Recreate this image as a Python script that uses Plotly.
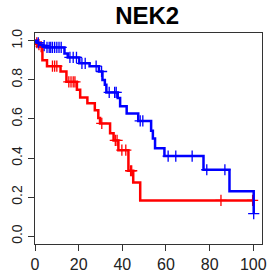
import numpy as np
import plotly.graph_objects as go

# Kaplan-Meier style step data (time, survival)
red_time = [0, 0.6, 1.5, 2.5, 3.4, 5.5, 11.7, 14.4, 19.2, 20.7, 24.0, 27.4, 29.0, 29.8,
            34.4, 36.0, 38.2, 42.8, 45.0, 48.2, 100]
red_surv = [1.0, 0.99, 0.98, 0.97, 0.90, 0.87, 0.843, 0.79, 0.75, 0.71, 0.68, 0.645, 0.605, 0.577,
            0.527, 0.49, 0.44, 0.335, 0.275, 0.183, 0.183]
red_cens = [0.8, 1.8, 2.8, 8.0, 9.0, 10.0, 15.5, 16.5, 17.5, 18.3, 30.6, 36.8, 37.6,
            39.8, 41.6, 43.8, 44.3, 85.2, 99.7]

blue_time = [0, 1.0, 2.0, 3.5, 5.0, 13.5, 15.0, 20.3, 25.0, 29.3, 30.9, 32.0, 32.7, 37.9,
             39.0, 42.0, 47.3, 53.2, 54.0, 55.0, 59.3, 77.2, 89.1, 100.2]
blue_surv = [1.0, 0.99, 0.98, 0.975, 0.966, 0.935, 0.915, 0.885, 0.87, 0.843, 0.80, 0.775, 0.736, 0.707,
             0.665, 0.628, 0.59, 0.54, 0.50, 0.45, 0.41, 0.34, 0.23, 0.115]
blue_cens = [1.5, 4.2, 5.5, 6.5, 7.2, 8.0, 9.0, 10.0, 11.0, 12.0, 16.0, 17.5, 19.0, 21.5, 23.0,
             28.0, 30.5, 34.0, 36.5, 37.2, 48.2, 49.4, 61.0, 64.5, 72.0, 78.7, 87.0, 100.2]

x_ticks = [0, 20, 40, 60, 80, 100]
y_ticks = [0.0, 0.2, 0.4, 0.6, 0.8, 1.0]
y_tick_labels = ["0.0", "0.2", "0.4", "0.6", "0.8", "1.0"]
title_text = "NEK2"


def surv_at(times, surv, t):
    idx = np.searchsorted(np.array(times), t, side="right") - 1
    return [surv[i] for i in idx]


fig = go.Figure()
for times, surv, cens, col in [(red_time, red_surv, red_cens, "#FF0000"),
                               (blue_time, blue_surv, blue_cens, "#0000FF")]:
    fig.add_trace(go.Scatter(x=times, y=surv, mode="lines", line=dict(color=col, width=2.5, shape="hv"),
                             showlegend=False, hoverinfo="skip"))
    fig.add_trace(go.Scatter(x=cens, y=surv_at(times, surv, cens), mode="markers",
                             marker=dict(symbol="cross-thin", size=8, line=dict(color=col, width=1.3)),
                             showlegend=False, hoverinfo="skip"))

font_family = "Liberation Sans, Arial, sans-serif"
fig.update_layout(
    width=270, height=276,
    margin=dict(l=35, r=8, t=33, b=32, autoexpand=False),
    paper_bgcolor="white", plot_bgcolor="white",
    title=dict(text="<b>" + title_text + "</b>", x=0.545, xanchor="center", y=0.942, yanchor="middle",
               yref="container", font=dict(family=font_family, size=24, color="black")),
    xaxis=dict(range=[0, 104], tickvals=x_ticks, ticks="outside", ticklen=6, tickcolor="#333",
               automargin=False,
               showgrid=False, zeroline=False, showline=True, linecolor="#333", linewidth=1, mirror=True,
               tickfont=dict(family=font_family, size=16, color="#222")),
    yaxis=dict(range=[-0.04, 1.04], tickvals=y_ticks, ticktext=y_tick_labels, ticks="outside", ticklen=6,
               tickcolor="#333", tickangle=-90, automargin=False,
               showgrid=False, zeroline=False, showline=True, linecolor="#333", linewidth=1, mirror=True,
               tickfont=dict(family=font_family, size=14, color="#222")),
)

fig.write_html("out.html", config={"displayModeBar": False},
               post_script="document.body.style.margin='0px';document.body.style.overflow='hidden';")
